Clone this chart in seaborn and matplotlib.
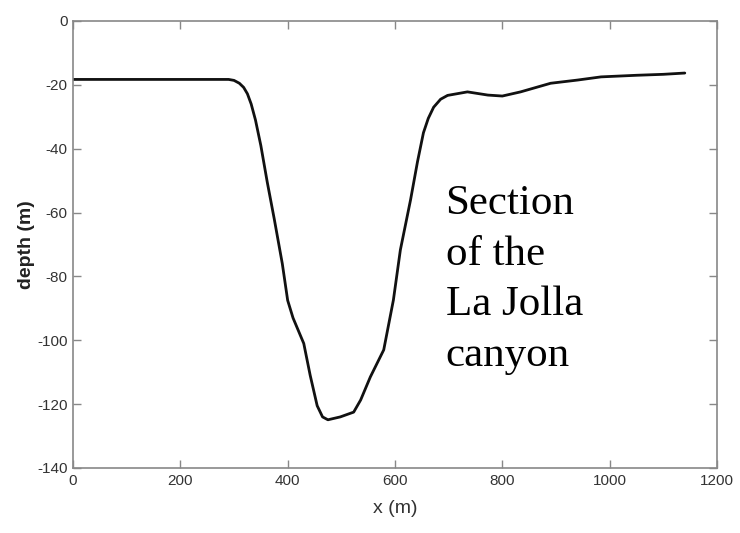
import matplotlib
matplotlib.use("Agg")
import matplotlib.pyplot as plt
import seaborn as sns
import pandas as pd

# ---- data ----
x_m = [0, 100, 200, 290, 300, 310, 318, 325, 332, 340, 350, 362, 375, 390,
       400, 410, 420, 430, 442, 455, 465, 475, 498, 523, 536, 554, 579, 597,
       610, 629, 642, 653, 662, 672, 685, 698, 735, 773, 800, 834, 890, 940,
       984, 1050, 1100, 1140]
depth_m = [-18.3, -18.3, -18.3, -18.3, -18.6, -19.5, -20.8, -22.8, -26.0,
           -31.0, -39.0, -50.5, -62.0, -76.0, -87.5, -93.0, -97.0, -101.0,
           -111.0, -120.5, -124.0, -124.9, -124.0, -122.5, -118.7, -111.5,
           -103.0, -87.4, -71.7, -56.0, -44.0, -35.0, -30.5, -27.0, -24.5,
           -23.3, -22.2, -23.2, -23.5, -22.2, -19.5, -18.5, -17.5, -17.0,
           -16.7, -16.3]
x_ticks = [0, 200, 400, 600, 800, 1000, 1200]
y_ticks = [0, -20, -40, -60, -80, -100, -120, -140]
annotation = "Section\nof the\nLa Jolla\ncanyon"

df = pd.DataFrame({"x": x_m, "depth": depth_m})

sns.set_style("white")
plt.rcParams["font.family"] = ["Liberation Sans", "DejaVu Sans"]
plt.rcParams["axes.unicode_minus"] = False

fig, ax = plt.subplots(figsize=(7.4, 5.33), dpi=100)
fig.subplots_adjust(left=73/740, right=717/740, bottom=1-468/533, top=1-21/533)

sns.lineplot(data=df, x="x", y="depth", ax=ax, color="#111111", linewidth=2.0,
             sort=False, estimator=None)

ax.set_xlim(0, 1200)
ax.set_ylim(-140, 0)
ax.set_xticks(x_ticks)
ax.set_yticks(y_ticks)
ax.set_xticklabels([str(t) for t in x_ticks])
ax.set_yticklabels([str(t) for t in y_ticks])

for side in ["left", "right", "top", "bottom"]:
    ax.spines[side].set_visible(True)
    ax.spines[side].set_color("#888888")
    ax.spines[side].set_linewidth(1.2)

ax.tick_params(axis="both", which="both", direction="in", length=6,
               width=1, color="#888888", labelsize=11, labelcolor="#333333",
               top=True, right=True, left=True, bottom=True, pad=4)

ax.set_xlabel("x (m)", fontsize=14, color="#333333")
ax.set_ylabel("depth (m)", fontsize=14, color="#222222", fontweight="bold")
ax.xaxis.set_label_coords(0.5, -0.072)
ax.yaxis.set_label_coords(-0.059, 0.5)

ax.text(0.5785, 0.635, annotation, transform=ax.transAxes, ha="left", va="top",
        fontsize=31, family=["Liberation Serif", "DejaVu Serif"],
        color="black", linespacing=1.42)

fig.savefig("out.png", dpi=100)
